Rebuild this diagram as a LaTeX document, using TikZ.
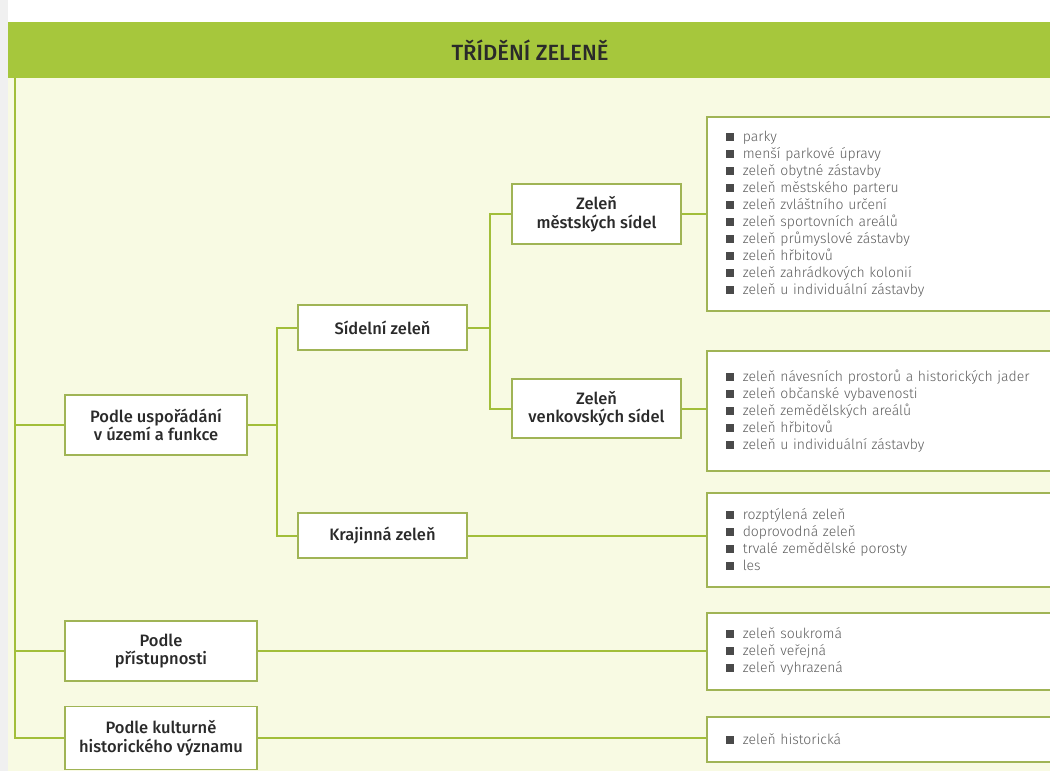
\documentclass[tikz,border=0pt]{standalone}
\usepackage{fontspec}
\setmainfont{Fira Sans}
\newfontfamily\nodefont{Fira Sans Medium}
\newfontfamily\listfont{Fira Sans Light}
\definecolor{band}{HTML}{A6C73C}
\definecolor{paper}{HTML}{F8FAE3}
\definecolor{wire}{HTML}{A2BE3A}
\definecolor{rim}{HTML}{A0B455}
\definecolor{ink}{HTML}{2A2A2A}
\definecolor{itemgray}{HTML}{5E5E5E}
\newcommand{\sq}{\textcolor{ink!85}{\rule[0.5pt]{8pt}{8pt}}\hspace{9pt}}

\begin{document}
\begin{tikzpicture}[x=1pt,y=-1pt,
  cat/.style={draw=rim, fill=white, line width=1.6pt, text=ink, align=center,
    inner sep=0pt, font=\nodefont\fontsize{16.5}{18.5}\selectfont},
  items/.style={draw=rim, fill=white, line width=1.6pt, text=itemgray, anchor=west,
    text width=330pt, align=left, inner xsep=19pt, inner ysep=0pt,
    font=\listfont\fontsize{14}{17}\selectfont},
  wire/.style={draw=wire, line width=2pt}]
\useasboundingbox (0,0) rectangle (1050,771);
\fill[white] (0,0) rectangle (1050,771);
\fill[black!6] (0,0) rectangle (8,771);
\fill[paper] (8,78) rectangle (1050,771);
\fill[band] (8,22) rectangle (1050,78);
\node[text=ink, font=\nodefont\fontsize{22}{24}\selectfont] (title) at (530,50) {TŘÍDĚNÍ ZELENĚ};

\node[cat, minimum width=182pt, minimum height=60pt] (uspor) at (156,425) {Podle uspořádání\\v území a funkce};
\node[cat, minimum width=192pt, minimum height=60pt] (pristup) at (161,651) {Podle\\přístupnosti};
\node[cat, minimum width=192pt, minimum height=63pt] (kultur) at (161,738) {Podle kulturně\\historického významu};
\node[cat, minimum width=169pt, minimum height=45pt] (sidelni) at (382.5,327.5) {Sídelní zeleň};
\node[cat, minimum width=169pt, minimum height=45pt] (krajinna) at (382.5,535.5) {Krajinná zeleň};
\node[cat, minimum width=169pt, minimum height=60pt] (mestske) at (596.5,214) {Zeleň\\městských sídel};
\node[cat, minimum width=169pt, minimum height=59pt] (venkov) at (596.5,408.5) {Zeleň\\venkovských sídel};

\node[items, minimum height=194pt] (mestlist) at (706,214) {\sq parky\\ \sq menší parkové úpravy\\ \sq zeleň obytné zástavby\\ \sq zeleň městského parteru\\ \sq zeleň zvláštního určení\\ \sq zeleň sportovních areálů\\ \sq zeleň průmyslové zástavby\\ \sq zeleň hřbitovů\\ \sq zeleň zahrádkových kolonií\\ \sq zeleň u individuální zástavby};
\node[items, minimum height=120pt] (venklist) at (706,411) {\sq zeleň návesních prostorů a historických jader\\ \sq zeleň občanské vybavenosti\\ \sq zeleň zemědělských areálů\\ \sq zeleň hřbitovů\\ \sq zeleň u individuální zástavby};
\node[items, minimum height=94pt] (krajlist) at (706,540) {\sq rozptýlená zeleň\\ \sq doprovodná zeleň\\ \sq trvalé zemědělské porosty\\ \sq les};
\node[items, minimum height=77pt] (pristlist) at (706,651.5) {\sq zeleň soukromá\\ \sq zeleň veřejná\\ \sq zeleň vyhrazená};
\node[items, minimum height=45pt] (kultlist) at (706,739.5) {\sq zeleň historická};

\coordinate (trunk) at (15,78);
\coordinate (fork) at (277,0);
\coordinate (fork2) at (490,0);
\draw[wire] (trunk) |- (kultur.west);
\draw[wire] (trunk|-uspor.west) -- (uspor.west);
\draw[wire] (trunk|-pristup.west) -- (pristup.west);
\draw[wire] (uspor.east) -- (fork|-uspor.east);
\draw[wire] (sidelni.west) -- (fork|-sidelni.west) -- (fork|-krajinna.west) -- (krajinna.west);
\draw[wire] (sidelni.east) -- (fork2|-sidelni.east);
\draw[wire] (mestske.west) -- (fork2|-mestske.west) -- (fork2|-venkov.west) -- (venkov.west);
\draw[wire] (mestske.east) -- (mestske.east-|mestlist.west);
\draw[wire] (venkov.east) -- (venkov.east-|venklist.west);
\draw[wire] (krajinna.east) -- (krajinna.east-|krajlist.west);
\draw[wire] (pristup.east) -- (pristup.east-|pristlist.west);
\draw[wire] (kultur.east) -- (kultur.east-|kultlist.west);
\end{tikzpicture}
\end{document}
